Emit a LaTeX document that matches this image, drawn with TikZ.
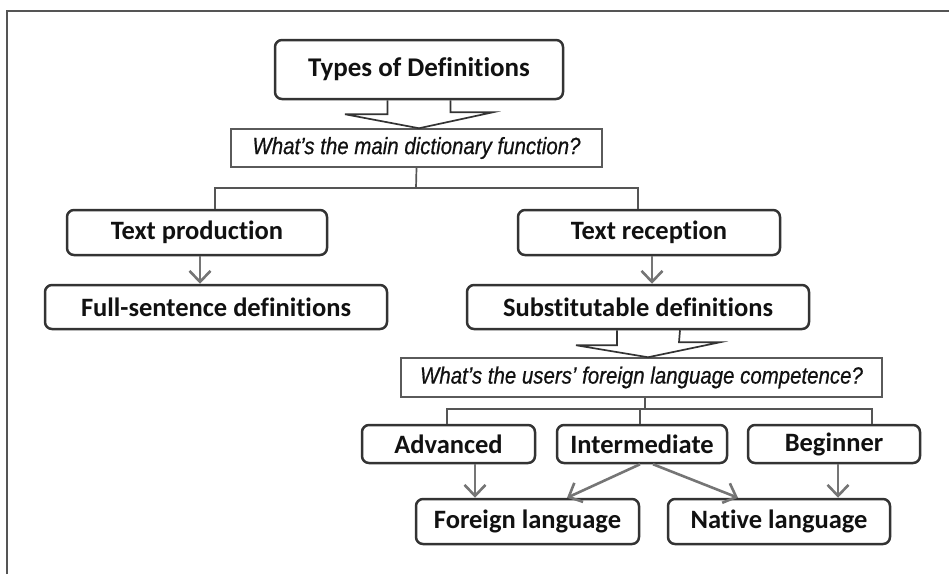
\documentclass[tikz,border=0pt]{standalone}
\usepackage{fontspec}
\setmainfont{Carlito}[Ligatures=NoCommon]
\newfontfamily\qfont[FakeStretch=0.87,FakeBold=0.6]{Liberation Sans}
\usetikzlibrary{arrows.meta,calc}
\definecolor{boxc}{HTML}{333333}
\definecolor{qc}{HTML}{5A5A5A}
\definecolor{linec}{HTML}{555555}
\definecolor{arrc}{HTML}{757575}
\definecolor{txt}{HTML}{111111}
\begin{document}
\begin{tikzpicture}[x=1pt,y=-1pt,
  box/.style={draw=boxc, line width=2.5pt, rounded corners=7pt, fill=white,
    font=\bfseries\fontsize{26.5}{26.5}\selectfont, text=txt, inner sep=0pt, anchor=center},
  qbox/.style={draw=qc, line width=1.5pt, fill=white, text=txt,
    font=\qfont\itshape\fontsize{23.5}{23.5}\selectfont, inner sep=0pt, anchor=center},
  tree/.style={draw=linec, line width=1.7pt},
  blockarr/.style={draw=boxc, line width=1.7pt, line join=miter},
  arr/.style={draw=arrc, line width=2.6pt, -{Straight Barb[length=11pt,width=21pt]}},
  frame/.style={draw=linec, line width=2pt}]
\useasboundingbox (0,0) rectangle (949,574);
\draw[frame] (7,574) -- (7,11) -- (949,11);

\node[box, minimum width=288pt, minimum height=59pt, font=\bfseries\fontsize{27}{27}\selectfont] (types) at (419,69.5) {Types of Definitions};
\node[qbox, minimum width=371pt, minimum height=38pt] (q1) at (416.5,148) {What’s the main dictionary function?};
\node[box, minimum width=260pt, minimum height=45pt] (prod) at (197,232.5) {Text production};
\node[box, minimum width=342pt, minimum height=44pt] (full) at (216,307) {Full-sentence definitions};
\node[box, minimum width=262pt, minimum height=45pt] (rec) at (649,232.5) {Text reception};
\node[box, minimum width=342pt, minimum height=44pt] (subst) at (638,307) {Substitutable definitions};
\node[qbox, minimum width=481pt, minimum height=39pt] (q2) at (641.5,377.5) {What’s the users’ foreign language competence?};
\node[box, minimum width=173pt, minimum height=38pt] (adv) at (448.5,444) {Advanced};
\node[box, minimum width=170pt, minimum height=38pt] (inter) at (642,444) {Intermediate};
\node[box, minimum width=172pt, minimum height=38pt] (beg) at (834,444) {Beginner};
\node[box, minimum width=223pt, minimum height=45pt] (for) at (527.5,521.5) {Foreign language};
\node[box, minimum width=222pt, minimum height=45pt] (nat) at (779,521.5) {Native language};

% block arrows
\draw[blockarr] ([xshift=-31.5pt]types.south) -- ++(0,14) -- ++(-42.5,0)
  -- (types.south |- q1.north) -- ++(74,-16) -- ++(-42.5,0) -- ([xshift=31.5pt]types.south);
\draw[blockarr] ([xshift=-21pt]subst.south) -- ++(0,15) -- ++(-41,0)
  -- ([xshift=10pt]subst.south |- q2.north) -- ++(72,-15) -- ++(-41,0) -- ([xshift=42pt]subst.south);

% tree connectors
\coordinate (j1) at (416,188);
\draw[tree] (q1.south) -- (j1);
\draw[tree] (j1) -| ([xshift=18pt]prod.north);
\draw[tree] (j1) -| ([xshift=-11pt]rec.north);
\coordinate (j2) at (645,409);
\draw[tree] ([xshift=3.5pt]q2.south) -- (j2);
\draw[tree] (j2) -| ([xshift=-1.5pt]adv.north);
\draw[tree] (j2) -| ([xshift=-2pt]inter.north);
\draw[tree] (j2) -| ([xshift=38pt]beg.north);

% arrows
\draw[arr] ([xshift=3pt]prod.south) -- ([xshift=-16pt]full.north);
\draw[arr] ([xshift=3pt]rec.south) -- ([xshift=14pt]subst.north);
\draw[arr] ([xshift=26.5pt]adv.south) -- ([xshift=-52.5pt]for.north);
\draw[arr] ([xshift=4pt]beg.south) -- ([xshift=59pt]nat.north);
\draw[arr] ([xshift=-2pt]inter.south) -- ([xshift=39.5pt]for.north);
\draw[arr] ([xshift=11pt]inter.south) -- ([xshift=-41pt]nat.north);
\end{tikzpicture}
\end{document}
